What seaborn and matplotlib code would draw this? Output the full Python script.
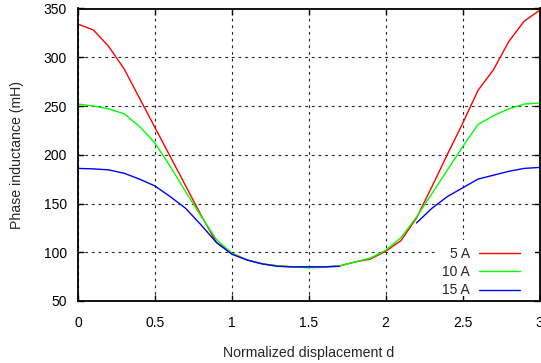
import numpy as np
import pandas as pd
import matplotlib
matplotlib.use("Agg")
import matplotlib.pyplot as plt
from matplotlib.patches import Rectangle
import seaborn as sns

# normalized displacement d, step 0.1
d = [round(0.1 * i, 1) for i in range(31)]

l_5a = [334, 328, 311, 288, 258, 228, 198, 168, 138, 110,
        99, 92, 88, 86, 85, 85, 85, 86, 90, 93,
        101, 112, 135, 167, 200, 232, 266, 287, 316, 337, 348]
l_10a = [252, 250, 247, 242, 229, 212, 188, 162, 137, 113,
         99, 92, 88, 86, 85, 84, 85, 86, 90, 94,
         102, 115, 136, 160, 184, 208, 231, 240, 247, 252, 253]
# 15 A series has no values between 1.8 and 2.1
l_15a = [186, 185.5, 184.5, 181, 175, 168, 157, 145, 128, 110,
         98, 92, 88, 85.5, 85, 85, 85, 85.5, None, None,
         None, None, 130, 145, 157, 166, 175, 179, 183, 186, 187]

labels = ["5 A", "10 A", "15 A"]
colors = ["#ff0000", "#00ff00", "#0000ff"]

rows = []
for lab, vals in zip(labels, [l_5a, l_10a, l_15a]):
    seg = 0
    for x, v in zip(d, vals):
        if v is None:
            seg += 1
            continue
        rows.append({"d": x, "L": v, "current": lab, "seg": f"{lab}-{seg}"})
df = pd.DataFrame(rows)

sns.set_style("ticks")
plt.rcParams["font.family"] = ["Liberation Sans", "DejaVu Sans"]
plt.rcParams["font.size"] = 10

fig, ax = plt.subplots(figsize=(5.41, 3.63), dpi=100)
fig.subplots_adjust(left=78 / 541, right=539.5 / 541, top=1 - 8.5 / 363, bottom=1 - 301 / 363)

sns.lineplot(data=df, x="d", y="L", hue="current", units="seg", estimator=None,
             palette=dict(zip(labels, colors)), hue_order=labels, linewidth=1.0,
             sort=False, ax=ax)

ax.set_xlim(0, 3)
ax.set_ylim(50, 350)
ax.set_xticks(np.arange(0, 3.01, 0.5))
ax.set_xticklabels(["0", "0.5", "1", "1.5", "2", "2.5", "3"])
ax.set_yticks(range(50, 351, 50))
ax.tick_params(direction="in", top=True, right=True, length=4, width=1,
               labelsize=10, colors="black")
ax.tick_params(axis="x", pad=11)
ax.tick_params(axis="y", pad=8)
ax.grid(True, color="black", linestyle=(0, (2.5, 3.5)), linewidth=0.8, alpha=0.85)
for sp in ax.spines.values():
    sp.set_linewidth(1.3)
    sp.set_color("black")

# key area hides the grid behind it
ax.add_patch(Rectangle((0.773, 0.016), 0.218, 0.192, transform=ax.transAxes,
                       facecolor="white", edgecolor="none", zorder=1.8))

ax.set_xlabel("Normalized displacement d", fontsize=10.2, labelpad=11)
ax.set_ylabel("Phase inductance (mH)", fontsize=10.2, labelpad=14)

sns.move_legend(ax, "lower right", bbox_to_anchor=(0.957, 0.012), title=None,
                frameon=False, markerfirst=False, handlelength=2.9,
                handletextpad=0.7, labelspacing=0.3, borderpad=0,
                borderaxespad=0, fontsize=10)

plt.savefig("out.png", dpi=100)
